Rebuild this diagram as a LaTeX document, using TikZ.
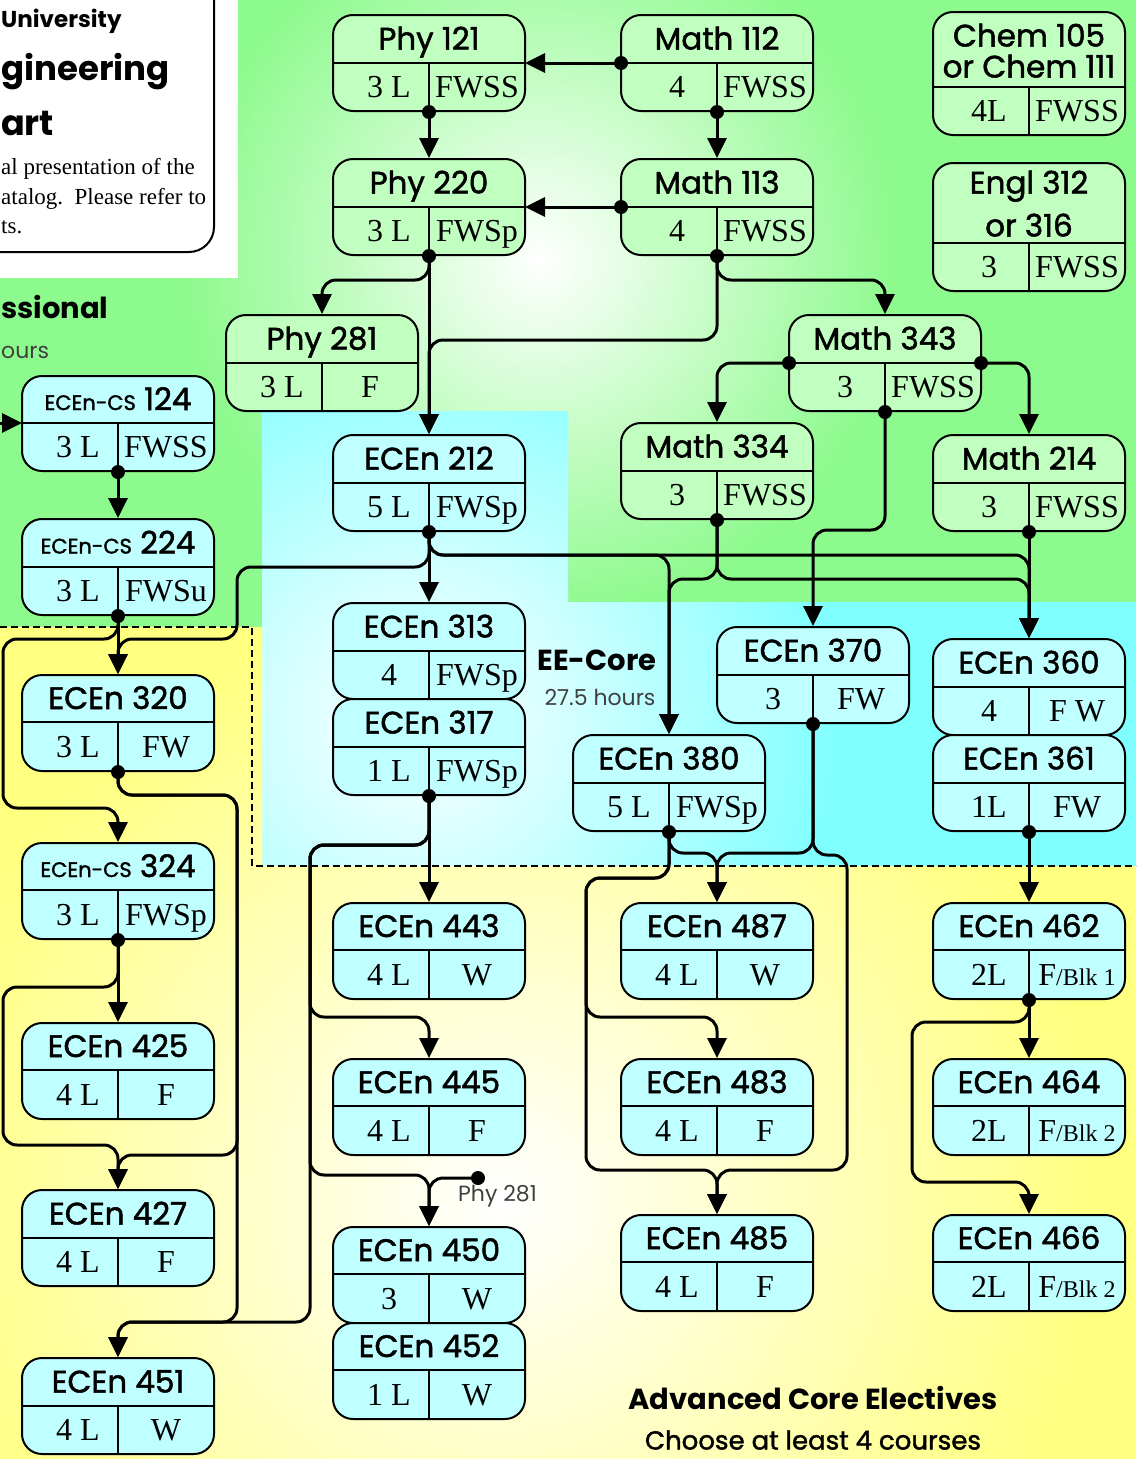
\documentclass[tikz,border=0pt]{standalone}
\usepackage{fontspec}
\setmainfont{Liberation Serif}
\newfontfamily\cf{Poppins}
\newfontfamily\cfm{Poppins}[BoldFont={Poppins}, BoldFeatures={FakeBold=1.6}]
\usetikzlibrary{arrows.meta}
\definecolor{bggreen}{RGB}{140,250,140}
\definecolor{bgcyan}{RGB}{128,255,255}
\definecolor{bgyellow}{RGB}{255,255,128}
\definecolor{fgreen}{RGB}{192,255,192}
\definecolor{fcyan}{RGB}{192,255,255}
\tikzset{
 cbox/.style={draw, line width=2pt, rounded corners=20pt, minimum width=192pt, inner sep=0pt},
 ttl/.style={font=\cfm\bfseries\fontsize{31}{33}\selectfont, inner sep=0pt, text height=21pt, text depth=0pt},
 cell/.style={font=\fontsize{32}{34}\selectfont, inner sep=0pt, text height=21pt, text depth=0pt},
 div/.style={line width=1.5pt},
 conn/.style={line width=3pt, rounded corners=14pt, -{Triangle[length=20pt,width=19pt]}},
 lbl/.style={font=\cf\bfseries\fontsize{29}{31}\selectfont, inner sep=0pt},
 thin/.style={font=\cf\fontsize{22}{24}\selectfont, inner sep=0pt, text=black!75},
 para/.style={font=\fontsize{23}{25}\selectfont, inner sep=0pt, anchor=base west},
}
\newcommand\ecs[1]{{\fontsize{21}{22}\selectfont ECEn-CS} #1}
\newcommand\fblk[1]{F{\fontsize{24}{24}\selectfont/Blk #1}}
% #1 name, #2 cx, #3 ytop, #4 ydiv, #5 ybot, #6 fill, #7 title, #8 left, #9 right
\newcommand\crs[9]{%
  \node[cbox, fill=#6, minimum height={(#5)-(#3)}] (#1) at (#2,{((#3)+(#5))/2}) {};
  \draw[div] ({#2-96},#4) -- ({#2+96},#4);
  \draw[div] (#2,#4) -- (#2,#5);
  \node[ttl] (#1t) at (#2,{((#3)+(#4))/2}) {#7};
  \node[cell] (#1a) at ({#2-40},{((#4)+(#5))/2}) {#8};
  \node[cell] (#1b) at ({#2+48},{((#4)+(#5))/2}) {#9};
  \coordinate (#1-l) at ({#2-96},#4);
  \coordinate (#1-r) at ({#2+96},#4);
}
\begin{document}
\begin{tikzpicture}[x=1pt,y=-1pt]
\useasboundingbox (0,0) rectangle (1136,1459);
% ---------- backgrounds
\begin{scope}
 \clip (0,0) -- (1136,0) -- (1136,602) -- (568,602) -- (568,411) -- (262,411) -- (262,627) -- (0,627) -- cycle;
 \fill[bggreen] (0,0) rectangle (1136,700);
 \shade[inner color=white, outer color=bggreen] (180,-100) rectangle (900,620);
\end{scope}
\begin{scope}
 \clip (262,411) -- (568,411) -- (568,602) -- (1136,602) -- (1136,866) -- (262,866) -- cycle;
 \fill[bgcyan] (0,400) rectangle (1136,870);
 \shade[inner color=white, outer color=bgcyan] (0,300) rectangle (840,1140);
\end{scope}
\begin{scope}
 \clip (0,627) -- (262,627) -- (262,866) -- (1136,866) -- (1136,1459) -- (0,1459) -- cycle;
 \fill[bgyellow] (0,620) rectangle (1136,1459);
 \shade[inner color=white, outer color=bgyellow] (-100,600) rectangle (1100,1800);
\end{scope}
\fill[white] (0,0) rectangle (238,278);
\draw[fill=white, line width=2pt, rounded corners=25pt] (-60,-60) rectangle (214,252);
\draw[dashed, dash pattern=on 7pt off 4pt, line width=1.5pt] (0,627) -- (252,627) -- (252,866) -- (1136,866);
% ---------- header texts
\node[font=\cf\bfseries\fontsize{23}{25}\selectfont, inner sep=0pt, anchor=base west] (hu) at (1,27) {University};
\node[font=\cf\bfseries\fontsize{34}{36}\selectfont, inner sep=0pt, anchor=base west] (hg) at (1,80) {gineering};
\node[font=\cf\bfseries\fontsize{35}{37}\selectfont, inner sep=0pt, anchor=base west] (ha) at (1,135) {art};
\node[para] (hp1) at (1,174) {al presentation of the};
\node[para] (hp2) at (1,204) {atalog.\ \ Please refer to};
\node[para] (hp3) at (1,233) {ts.};
\node[lbl, anchor=base west] (hs) at (1,318) {ssional};
\node[thin, anchor=base west] (ho) at (1,358) {ours};
% ---------- courses
\crs{p121}{429}{15}{63}{111}{fgreen}{Phy 121}{3 L}{FWSS}
\crs{m112}{717}{15}{63}{111}{fgreen}{Math 112}{4}{FWSS}
\crs{p220}{429}{159}{207}{255}{fgreen}{Phy 220}{3 L}{FWSp}
\crs{m113}{717}{159}{207}{255}{fgreen}{Math 113}{4}{FWSS}
\crs{chem}{1029}{12}{87}{135}{fgreen}{}{4L}{FWSS}
\node[ttl] (chemt1) at (1029,36) {Chem 105};
\node[ttl] (chemt2) at (1029,67) {or Chem 111};
\crs{engl}{1029}{163}{243}{291}{fgreen}{}{3}{FWSS}
\node[ttl] (englt1) at (1029,183) {Engl 312};
\node[ttl] (englt2) at (1029,226) {or 316};
\crs{p281}{322}{315}{363}{411}{fgreen}{Phy 281}{3 L}{F}
\crs{m343}{885}{315}{363}{411}{fgreen}{Math 343}{3}{FWSS}
\crs{m334}{717}{423}{471}{519}{fgreen}{Math 334}{3}{FWSS}
\crs{m214}{1029}{435}{483}{531}{fgreen}{Math 214}{3}{FWSS}
\crs{e124}{118}{376}{423}{471}{fcyan}{\ecs{124}}{3 L}{FWSS}
\crs{e224}{118}{519}{567}{615}{fcyan}{\ecs{224}}{3 L}{FWSu}
\crs{e212}{429}{435}{483}{531}{fcyan}{ECEn 212}{5 L}{FWSp}
\crs{e313}{429}{603}{651}{699}{fcyan}{ECEn 313}{4}{FWSp}
\crs{e317}{429}{699}{747}{795}{fcyan}{ECEn 317}{1 L}{FWSp}
\crs{e370}{813}{627}{675}{723}{fcyan}{ECEn 370}{3}{FW}
\crs{e360}{1029}{639}{687}{735}{fcyan}{ECEn 360}{4}{F W}
\crs{e361}{1029}{735}{783}{831}{fcyan}{ECEn 361}{1L}{FW}
\crs{e380}{669}{735}{783}{831}{fcyan}{ECEn 380}{5 L}{FWSp}
\crs{e320}{118}{675}{722}{771}{fcyan}{ECEn 320}{3 L}{FW}
\crs{e324}{118}{843}{890}{939}{fcyan}{\ecs{324}}{3 L}{FWSp}
\crs{e425}{118}{1023}{1070}{1119}{fcyan}{ECEn 425}{4 L}{F}
\crs{e427}{118}{1190}{1238}{1286}{fcyan}{ECEn 427}{4 L}{F}
\crs{e451}{118}{1358}{1406}{1454}{fcyan}{ECEn 451}{4 L}{W}
\crs{e443}{429}{903}{950}{999}{fcyan}{ECEn 443}{4 L}{W}
\crs{e445}{429}{1059}{1106}{1155}{fcyan}{ECEn 445}{4 L}{F}
\crs{e450}{429}{1227}{1274}{1323}{fcyan}{ECEn 450}{3}{W}
\crs{e452}{429}{1323}{1370}{1419}{fcyan}{ECEn 452}{1 L}{W}
\crs{e487}{717}{903}{950}{999}{fcyan}{ECEn 487}{4 L}{W}
\crs{e483}{717}{1059}{1106}{1155}{fcyan}{ECEn 483}{4 L}{F}
\crs{e485}{717}{1215}{1262}{1311}{fcyan}{ECEn 485}{4 L}{F}
\crs{e462}{1029}{903}{950}{999}{fcyan}{ECEn 462}{2L}{\fblk{1}}
\crs{e464}{1029}{1059}{1106}{1155}{fcyan}{ECEn 464}{2L}{\fblk{2}}
\crs{e466}{1029}{1215}{1262}{1311}{fcyan}{ECEn 466}{2L}{\fblk{2}}
% ---------- other labels
\node[lbl] (eecore) at (597,660) {EE-Core};
\node[thin] (eehrs) at (600,697) {27.5 hours};
\node[lbl] (ace) at (813,1398) {Advanced Core Electives};
\node[font=\cfm\bfseries\fontsize{26}{28}\selectfont, inner sep=0pt] (ace2) at (813,1440) {Choose at least 4 courses};
\node[thin, anchor=west] (phylbl) at (458,1196) {Phy 281};
\coordinate (phydot) at (478,1178);
\coordinate (lin) at (-5,423);
% ---------- connectors
\draw[conn] (m112-l) -- (p121-r);
\draw[conn] (p121.south) -- (p220.north);
\draw[conn] (m112.south) -- (m113.north);
\draw[conn] (m113-l) -- (p220-r);
\draw[conn] (p220.south) -- (429,280) -| (p281.north);
\draw[conn] (p220.south) -- (e212.north);
\draw[conn] (m113.south) -- (717,280) -| (m343.north);
\draw[conn] (m113.south) -- (717,340) -- (429,340) -- (e212.north);
\draw[conn] (m343-l) -| (m334.north);
\draw[conn] (m343-r) -| (m214.north);
\draw[conn] (m343.south) -- (885,530) -| (e370.north);
\draw[conn] (m214.south) -- (e360.north);
\draw[conn] (m334.south) -- (717,579) -| (e380.north);
\draw[conn] (m334.south) -- (717,579) -| (e360.north);
\draw[conn] (e212.south) -- (e313.north);
\draw[conn] (e212.south) -- (429,555) -| (e380.north);
\draw[conn] (e212.south) -- (429,555) -| (e360.north);
\draw[conn] (e212.south) -- (429,567) -- (237,567) -- (237,639) -| (e320.north);
\draw[conn] (lin) -- (e124-l);
\draw[conn] (e124.south) -- (e224.north);
\draw[conn] (e224.south) -- (e320.north);
\draw[conn] (e224.south) -- (118,639) -- (3,639) -- (3,808) -| (e324.north);
\draw[conn] (e320.south) -- (118,795) -- (237,795) -- (237,1155) -| (e427.north);
\draw[conn] (e320.south) -- (118,795) -- (237,795) -- (237,1322) -| (e451.north);
\draw[conn] (e324.south) -- (e425.north);
\draw[conn] (e324.south) -- (118,987) -- (3,987) -- (3,1145) -| (e427.north);
\draw[conn] (e317.south) -- (e443.north);
\draw[conn] (e317.south) -- (429,845) -- (310,845) -- (310,1017) -| (e445.north);
\draw[conn] (e317.south) -- (429,845) -- (310,845) -- (310,1175) -| (e450.north);
\draw[conn] (e317.south) -- (429,845) -- (310,845) -- (310,1322) -| (e451.north);
\draw[conn] (phydot) -| (e450.north);
\draw[conn] (e380.south) -- (669,853) -| (e487.north);
\draw[conn] (e380.south) -- (669,878) -- (586,878) -- (586,1017) -| (e483.north);
\draw[conn] (e380.south) -- (669,878) -- (586,878) -- (586,1170) -| (e485.north);
\draw[conn] (e370.south) -- (813,853) -| (e487.north);
\draw[conn] (e370.south) -- (813,855) -- (847,855) -- (847,1170) -| (e485.north);
\draw[conn] (e361.south) -- (e462.north);
\draw[conn] (e462.south) -- (e464.north);
\draw[conn] (e462.south) -- (1029,1022) -- (912,1022) -- (912,1182) -| (e466.north);
% ---------- dots
\foreach \p in {m112-l,p121.south,m112.south,m113-l,p220.south,m113.south,m343-l,m343-r,m343.south,m214.south,m334.south,e212.south,e124.south,e224.south,e320.south,e324.south,e317.south,e380.south,e370.south,e361.south,e462.south,phydot}
  \fill (\p) circle (7);
\end{tikzpicture}
\end{document}
